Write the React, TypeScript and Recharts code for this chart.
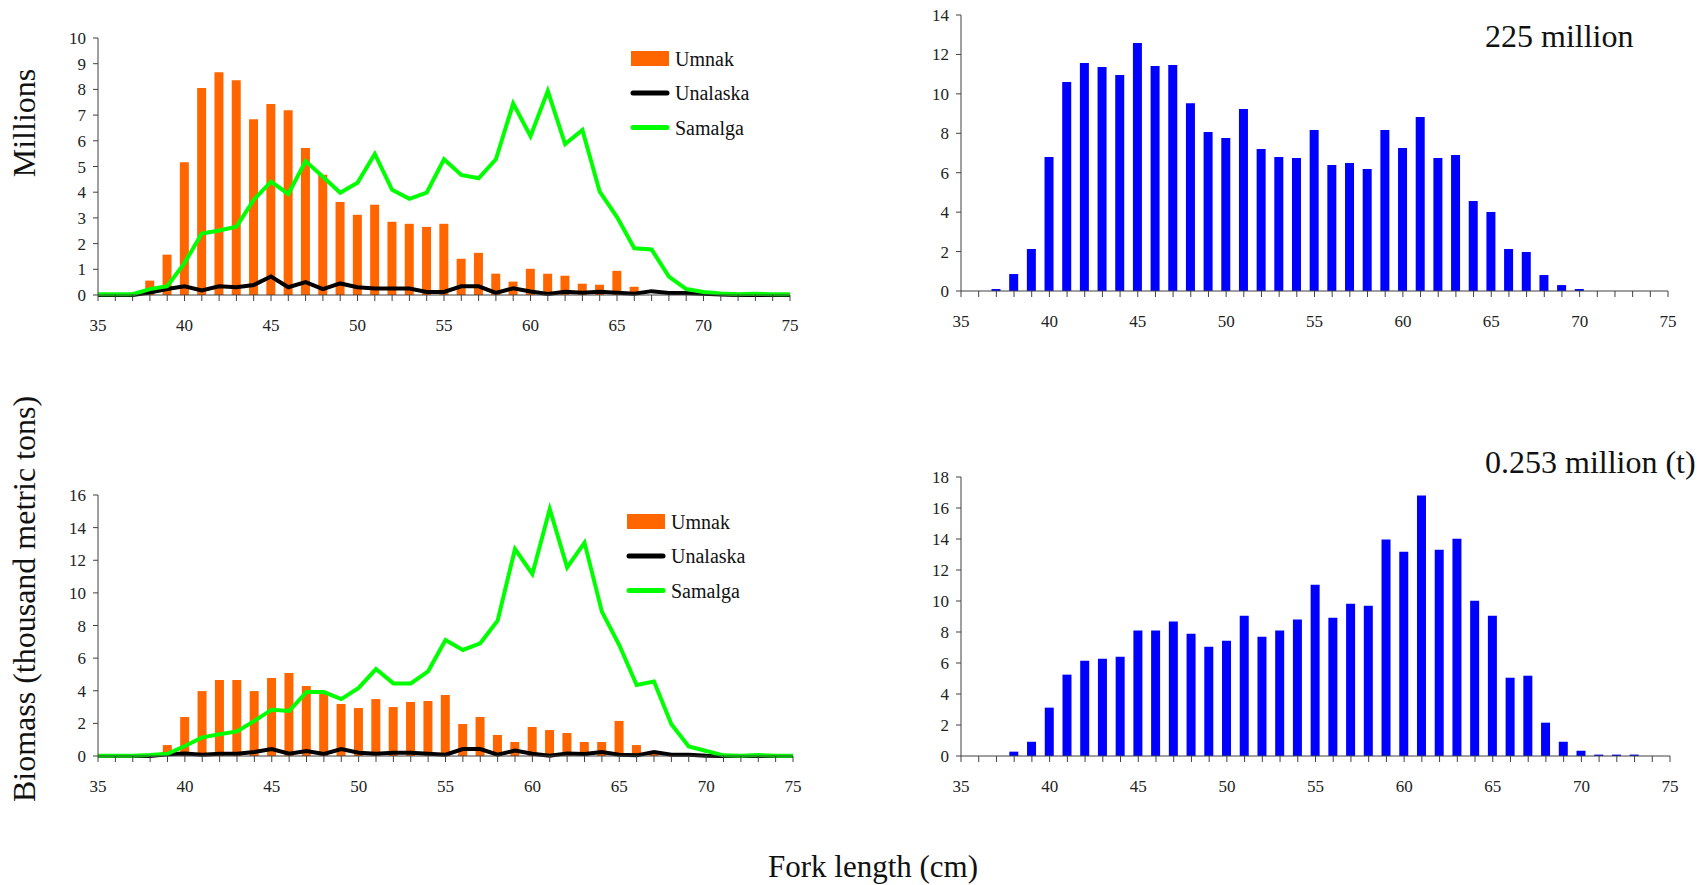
import { ComposedChart, BarChart, Bar, Line, XAxis, YAxis } from "recharts"

const SERIF = '"Liberation Serif", "Times New Roman", serif'
const ORANGE = "#FF6600"
const GREEN = "#00FF00"
const BLUE = "#0000FF"
const AXIS = "#404040"

// fork length classes (cm)
const lengths = [
  35, 36, 37, 38, 39, 40, 41, 42, 43, 44, 45, 46, 47, 48, 49, 50, 51, 52, 53, 54, 55,
  56, 57, 58, 59, 60, 61, 62, 63, 64, 65, 66, 67, 68, 69, 70, 71, 72, 73, 74, 75,
]

// abundance by area (millions)
const umnakCount = [
  0, 0, 0, 0.56, 1.57, 5.17, 8.05, 8.67, 8.36, 6.84, 7.43, 7.19, 5.72, 4.68, 3.62, 3.12, 3.51, 2.85, 2.77, 2.65, 2.77,
  1.41, 1.64, 0.83, 0.52, 1.02, 0.83, 0.75, 0.44, 0.4, 0.94, 0.32, 0, 0, 0, 0, 0, 0, 0, 0, 0,
]
const unalaskaCount = [
  0, 0, 0, 0.1, 0.23, 0.34, 0.18, 0.34, 0.3, 0.39, 0.72, 0.3, 0.5, 0.23, 0.45, 0.3, 0.25, 0.25, 0.25, 0.12, 0.12,
  0.34, 0.34, 0.08, 0.26, 0.14, 0.04, 0.13, 0.09, 0.13, 0.09, 0.05, 0.15, 0.08, 0.08, 0.05, 0.02, 0, 0, 0, 0,
]
const samalgaCount = [
  0.03, 0.03, 0.03, 0.23, 0.34, 1.24, 2.39, 2.51, 2.66, 3.7, 4.41, 3.93, 5.21, 4.6, 3.98, 4.37, 5.49, 4.09, 3.74, 3.98, 5.28,
  4.67, 4.54, 5.28, 7.45, 6.18, 7.94, 5.87, 6.42, 4.02, 3.03, 1.82, 1.77, 0.72, 0.23, 0.12, 0.06, 0.03, 0.05, 0.03, 0.03,
]
const totalCount = [
  0, 0, 0.1, 0.86, 2.13, 6.8, 10.6, 11.57, 11.36, 10.96, 12.58, 11.41, 11.46, 9.52, 8.07, 7.76, 9.23, 7.2, 6.8, 6.75, 8.17,
  6.39, 6.49, 6.19, 8.17, 7.25, 8.83, 6.75, 6.9, 4.57, 4.01, 2.13, 1.98, 0.81, 0.3, 0.1, 0, 0, 0, 0, 0,
]

// biomass by area (thousand t)
const umnakBiomass = [
  0, 0, 0, 0, 0.67, 2.39, 3.98, 4.66, 4.66, 3.98, 4.78, 5.09, 4.29, 3.85, 3.19, 2.94, 3.49, 3.0, 3.31, 3.37, 3.74,
  1.96, 2.39, 1.29, 0.86, 1.78, 1.59, 1.41, 0.86, 0.86, 2.15, 0.67, 0.12, 0, 0, 0, 0, 0, 0, 0, 0,
]
const unalaskaBiomass = [
  0, 0, 0, 0, 0.1, 0.16, 0.08, 0.14, 0.14, 0.25, 0.43, 0.14, 0.31, 0.12, 0.43, 0.2, 0.14, 0.2, 0.2, 0.14, 0.08,
  0.43, 0.43, 0.08, 0.33, 0.14, 0.02, 0.16, 0.12, 0.25, 0.08, 0.04, 0.25, 0.08, 0.08, 0.02, 0, 0, 0, 0, 0,
]
const samalgaBiomass = [
  0.02, 0.02, 0.02, 0.06, 0.14, 0.61, 1.14, 1.33, 1.51, 2.15, 2.84, 2.76, 3.92, 3.92, 3.49, 4.17, 5.33, 4.45, 4.45, 5.19, 7.11,
  6.5, 6.91, 8.3, 12.69, 11.16, 15.14, 11.56, 13.08, 8.85, 6.8, 4.35, 4.56, 1.94, 0.59, 0.31, 0.04, 0.02, 0.06, 0.02, 0.02,
]
const totalBiomass = [
  0, 0, 0, 0.28, 0.92, 3.12, 5.25, 6.15, 6.28, 6.41, 8.09, 8.09, 8.67, 7.89, 7.05, 7.44, 9.05, 7.7, 8.09, 8.8, 11.05,
  8.92, 9.83, 9.7, 13.96, 13.18, 16.8, 13.31, 14.02, 10.02, 9.05, 5.05, 5.18, 2.15, 0.92, 0.34, 0.09, 0.09, 0.09, 0, 0,
]

const countTicks = [0, 1, 2, 3, 4, 5, 6, 7, 8, 9, 10]
const countTotalTicks = [0, 2, 4, 6, 8, 10, 12, 14]
const biomassTicks = [0, 2, 4, 6, 8, 10, 12, 14, 16]
const biomassTotalTicks = [0, 2, 4, 6, 8, 10, 12, 14, 16, 18]

const siteRows = (umnak: number[], unalaska: number[], samalga: number[]) =>
  lengths.map((len, i) => ({ len, umnak: umnak[i], unalaska: unalaska[i], samalga: samalga[i] }))
const totalRows = (total: number[]) => lengths.map((len, i) => ({ len, total: total[i] }))

const tickStyle = { fontFamily: SERIF, fontSize: 17, fill: "#222" }
// tick marks every cm, labels every 5 cm
const lengthTick = (v: number) => (v % 5 === 0 ? String(v) : "")

interface PanelProps {
  left: number
  top: number
  width: number
  height: number
  marginTop: number
  yAxisWidth: number
  yTicks: number[]
}

function lengthAxis() {
  return (
    <XAxis
      dataKey="len"
      type="number"
      domain={[35, 75]}
      ticks={lengths}
      interval={0}
      tickFormatter={lengthTick}
      tick={tickStyle}
      stroke={AXIS}
      tickSize={6}
      tickMargin={18}
      height={50}
    />
  )
}

function valueAxis(yTicks: number[], width: number) {
  return (
    <YAxis
      type="number"
      domain={[0, yTicks[yTicks.length - 1]]}
      ticks={yTicks}
      interval={0}
      tick={tickStyle}
      stroke={AXIS}
      tickSize={5}
      tickMargin={7}
      width={width}
    />
  )
}

function SitePanel({ rows, ...p }: PanelProps & { rows: ReturnType<typeof siteRows> }) {
  return (
    <div style={{ position: "absolute", left: p.left, top: p.top }}>
      <ComposedChart
        width={p.width}
        height={p.height}
        data={rows}
        margin={{ top: p.marginTop, right: 20, bottom: 0, left: 0 }}
      >
        {lengthAxis()}
        {valueAxis(p.yTicks, p.yAxisWidth)}
        <Bar dataKey="umnak" fill={ORANGE} barSize={9} isAnimationActive={false} />
        <Line type="linear" dataKey="unalaska" stroke="#000" strokeWidth={4} dot={false} isAnimationActive={false} />
        <Line type="linear" dataKey="samalga" stroke={GREEN} strokeWidth={4} dot={false} isAnimationActive={false} />
      </ComposedChart>
    </div>
  )
}

function TotalPanel({ rows, ...p }: PanelProps & { rows: ReturnType<typeof totalRows> }) {
  return (
    <div style={{ position: "absolute", left: p.left, top: p.top }}>
      <BarChart
        width={p.width}
        height={p.height}
        data={rows}
        margin={{ top: p.marginTop, right: 20, bottom: 0, left: 0 }}
      >
        {lengthAxis()}
        {valueAxis(p.yTicks, p.yAxisWidth)}
        <Bar dataKey="total" fill={BLUE} barSize={9} isAnimationActive={false} />
      </BarChart>
    </div>
  )
}

// legend block: swatch column at x, first row centred at y
function AreaLegend({ x, y }: { x: number; y: number }) {
  const gap = 34.5
  const textX = x + 44
  return (
    <g fontFamily={SERIF} fontSize={20} fill="#111">
      <rect x={x} y={y - 7.5} width={38} height={15} fill={ORANGE} />
      <text x={textX} y={y + 7}>Umnak</text>
      <line x1={x + 2} x2={x + 36} y1={y + gap} y2={y + gap} stroke="#000" strokeWidth={5} strokeLinecap="round" />
      <text x={textX} y={y + gap + 7}>Unalaska</text>
      <line x1={x + 2} x2={x + 36} y1={y + 2 * gap} y2={y + 2 * gap} stroke={GREEN} strokeWidth={5} strokeLinecap="round" />
      <text x={textX} y={y + 2 * gap + 7}>Samalga</text>
    </g>
  )
}

export default function App() {
  return (
    <div
      style={{
        position: "absolute",
        left: 0,
        top: 0,
        width: 1700,
        height: 885,
        background: "#fff",
        fontFamily: SERIF,
      }}
    >
      <SitePanel
        rows={siteRows(umnakCount, unalaskaCount, samalgaCount)}
        left={40}
        top={20}
        width={770}
        height={325}
        marginTop={18}
        yAxisWidth={58}
        yTicks={countTicks}
      />
      <TotalPanel
        rows={totalRows(totalCount)}
        left={900}
        top={0}
        width={788}
        height={341}
        marginTop={15}
        yAxisWidth={61}
        yTicks={countTotalTicks}
      />
      <SitePanel
        rows={siteRows(umnakBiomass, unalaskaBiomass, samalgaBiomass)}
        left={40}
        top={470}
        width={773}
        height={336}
        marginTop={25}
        yAxisWidth={58}
        yTicks={biomassTicks}
      />
      <TotalPanel
        rows={totalRows(totalBiomass)}
        left={900}
        top={450}
        width={790}
        height={356}
        marginTop={27}
        yAxisWidth={61}
        yTicks={biomassTotalTicks}
      />
      <svg
        width={1700}
        height={885}
        style={{ position: "absolute", left: 0, top: 0, pointerEvents: "none" }}
      >
        <g fontFamily={SERIF} fill="#111">
          <text x={35} y={123} fontSize={32} textAnchor="middle" transform="rotate(-90, 35, 123)">
            Millions
          </text>
          <text x={35} y={599} fontSize={32} textAnchor="middle" transform="rotate(-90, 35, 599)">
            Biomass (thousand metric tons)
          </text>
          <text x={873} y={877} fontSize={31} textAnchor="middle">
            Fork length (cm)
          </text>
          <text x={1485} y={47} fontSize={32}>225 million</text>
          <text x={1485} y={473} fontSize={32}>0.253 million (t)</text>
        </g>
        <AreaLegend x={631} y={58.5} />
        <AreaLegend x={627} y={521.5} />
      </svg>
    </div>
  )
}
